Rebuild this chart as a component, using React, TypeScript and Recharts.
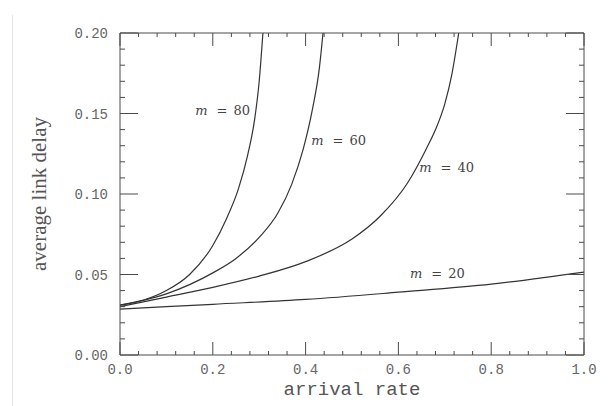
import React from 'react';
import { LineChart, Line, XAxis, YAxis, ReferenceDot } from 'recharts';

// curves: arrival rate -> average link delay
const m20X = [0, 0.2, 0.4, 0.6, 0.8, 1.0];
const m20Y = [0.0285, 0.0315, 0.0345, 0.039, 0.044, 0.0515];

const m40X = [0, 0.1, 0.2, 0.3, 0.4, 0.5, 0.56, 0.62, 0.66, 0.68, 0.7, 0.715, 0.73];
const m40Y = [0.030, 0.036, 0.042, 0.049, 0.058, 0.072, 0.086, 0.107, 0.128, 0.140, 0.156, 0.174, 0.2];

const m60X = [0, 0.1, 0.2, 0.25, 0.3, 0.34, 0.37, 0.395, 0.415, 0.43, 0.4375];
const m60Y = [0.031, 0.038, 0.051, 0.060, 0.073, 0.088, 0.106, 0.128, 0.153, 0.179, 0.2];

const m80X = [0, 0.05, 0.1, 0.15, 0.2, 0.23, 0.255, 0.275, 0.29, 0.3, 0.308];
const m80Y = [0.031, 0.034, 0.040, 0.050, 0.068, 0.085, 0.103, 0.124, 0.146, 0.17, 0.2];

// curve tags: m value and where the tag starts
const tagM = ['80', '60', '40', '20'];
const tagX = [0.162, 0.412, 0.645, 0.625];
const tagY = [0.149, 0.1304, 0.1138, 0.0476];

const xTicks = [
  0, 0.04, 0.08, 0.12, 0.16, 0.2, 0.24, 0.28, 0.32, 0.36, 0.4, 0.44, 0.48,
  0.52, 0.56, 0.6, 0.64, 0.68, 0.72, 0.76, 0.8, 0.84, 0.88, 0.92, 0.96, 1.0,
];
const yTicks = [
  0, 0.01, 0.02, 0.03, 0.04, 0.05, 0.06, 0.07, 0.08, 0.09, 0.1,
  0.11, 0.12, 0.13, 0.14, 0.15, 0.16, 0.17, 0.18, 0.19, 0.2,
];

const toPoints = (xs: number[], ys: number[]) => xs.map((x, i) => ({ x, y: ys[i] }));

const series = [
  { name: 'm20', data: toPoints(m20X, m20Y) },
  { name: 'm40', data: toPoints(m40X, m40Y) },
  { name: 'm60', data: toPoints(m60X, m60Y) },
  { name: 'm80', data: toPoints(m80X, m80Y) },
];

const INK = '#333';
const FRAME = '#4a4a4a';
const TEXT = '#666';
const MONO = '"Liberation Mono", monospace';

const isMajor = (v: number, step: number) => Math.abs(v / step - Math.round(v / step)) < 1e-6;

// ticks point into the plot, so they are drawn by hand from the tick position
const LeftTick = ({ x, y, payload }: any) => {
  const major = isMajor(payload.value, 0.05);
  const edge = x + 12;
  return (
    <g>
      <line x1={edge} x2={edge + (major ? 18 : 5)} y1={y} y2={y} stroke={FRAME} />
      {major && (
        <text x={x} y={y + 5} textAnchor="end" fontSize={14} fontFamily={MONO} fill={TEXT}>
          {payload.value.toFixed(2)}
        </text>
      )}
    </g>
  );
};

const RightTick = ({ x, y, payload }: any) => {
  const major = isMajor(payload.value, 0.05);
  return <line x1={x} x2={x - (major ? 18 : 5)} y1={y} y2={y} stroke={FRAME} />;
};

const BottomTick = ({ x, y, payload }: any) => {
  const major = isMajor(payload.value, 0.2);
  return (
    <g>
      <line x1={x} x2={x} y1={y} y2={y - (major ? 13 : 4)} stroke={FRAME} />
      {major && (
        <text x={x} y={y + 19} textAnchor="middle" fontSize={14} fontFamily={MONO} fill={TEXT}>
          {payload.value.toFixed(1)}
        </text>
      )}
    </g>
  );
};

const TopTick = ({ x, y, payload }: any) => {
  const major = isMajor(payload.value, 0.2);
  return <line x1={x} x2={x} y1={y} y2={y + (major ? 13 : 4)} stroke={FRAME} />;
};

const Tag = (m: string) => (props: any) => {
  const vb = props.viewBox || {};
  const x = (vb.x ?? 0) + (vb.width ?? 0) / 2;
  const y = (vb.y ?? 0) + (vb.height ?? 0) / 2;
  return (
    <text x={x} y={y} fontSize={13} fontFamily='"DejaVu Serif", serif' fill="#444">
      <tspan fontStyle="italic">m</tspan>
      <tspan dx={9}>=</tspan>
      <tspan dx={6}>{m}</tspan>
    </text>
  );
};

const App = () => (
  <div style={{ position: 'absolute', left: 0, top: 0, width: 609, height: 406, background: '#fff' }}>
    <div style={{ position: 'absolute', left: 12, top: 15, width: 1, height: 391, background: '#e4e4e4' }} />
    <LineChart width={609} height={406} margin={{ top: 32, right: 24, bottom: 0, left: 0 }}>
      <XAxis
        dataKey="x"
        type="number"
        domain={[0, 1]}
        ticks={xTicks}
        interval={0}
        allowDataOverflow
        height={51}
        tickSize={0}
        tickMargin={0}
        tickLine={false}
        stroke={FRAME}
        tick={BottomTick}
        label={{
          content: ({ viewBox }: any) => (
            <text
              x={viewBox.x + viewBox.width / 2}
              y={viewBox.y + 40}
              textAnchor="middle"
              fontSize={19}
              fontFamily={MONO}
              fill="#555"
            >
              arrival rate
            </text>
          ),
        }}
      />
      <XAxis
        xAxisId="top"
        orientation="top"
        dataKey="x"
        type="number"
        domain={[0, 1]}
        ticks={xTicks}
        interval={0}
        allowDataOverflow
        height={1}
        tickSize={0}
        tickMargin={0}
        tickLine={false}
        stroke={FRAME}
        tick={TopTick}
      />
      <YAxis
        type="number"
        domain={[0, 0.2]}
        ticks={yTicks}
        interval={0}
        allowDataOverflow
        width={120}
        tickSize={0}
        tickMargin={12}
        tickLine={false}
        stroke={FRAME}
        tick={LeftTick}
        label={{
          content: ({ viewBox }: any) => {
            const cx = 46;
            const cy = viewBox.y + viewBox.height / 2;
            return (
              <text
                x={cx}
                y={cy}
                transform={`rotate(-90, ${cx}, ${cy})`}
                textAnchor="middle"
                fontSize={21}
                fontFamily='"Liberation Serif", serif'
                fill="#555"
              >
                average link delay
              </text>
            );
          },
        }}
      />
      <YAxis
        yAxisId="right"
        orientation="right"
        type="number"
        domain={[0, 0.2]}
        ticks={yTicks}
        interval={0}
        allowDataOverflow
        width={1}
        tickSize={0}
        tickMargin={0}
        tickLine={false}
        stroke={FRAME}
        tick={RightTick}
      />
      {series.map(s => (
        <Line
          key={s.name}
          data={s.data}
          dataKey="y"
          type="monotone"
          stroke={INK}
          strokeWidth={1.2}
          dot={false}
          activeDot={false}
          isAnimationActive={false}
        />
      ))}
      {tagM.map((m, i) => (
        <ReferenceDot
          key={m}
          x={tagX[i]}
          y={tagY[i]}
          r={1}
          fill="none"
          stroke="none"
          label={Tag(m)}
        />
      ))}
    </LineChart>
  </div>
);

export default App;
